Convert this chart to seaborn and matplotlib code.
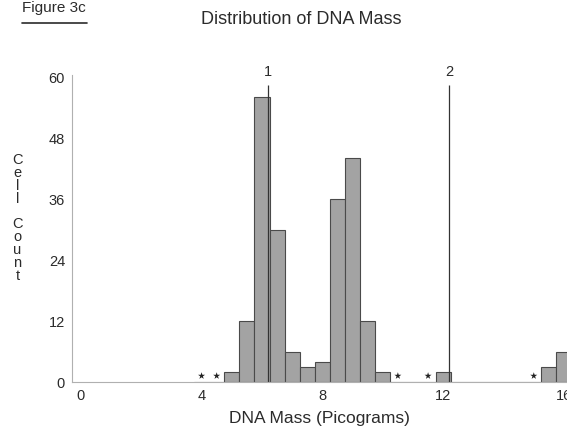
import matplotlib
matplotlib.use("Agg")
import matplotlib.pyplot as plt
import pandas as pd
import seaborn as sns

# DNA mass histogram: bin centres (picograms) and cell counts
bin_centers = [4.0, 4.5, 5.0, 5.5, 6.0, 6.5, 7.0, 7.5, 8.0, 8.5, 9.0, 9.5,
               10.0, 10.5, 11.0, 11.5, 12.0, 12.5, 13.0, 13.5, 14.0, 14.5,
               15.0, 15.5, 16.0]
cell_counts = [0, 0, 2, 12, 56, 30, 6, 3, 4, 36, 44, 12,
               2, 0, 0, 0, 2, 0, 0, 0, 0, 0,
               0, 3, 6]

# asterisks mark bins with a single / very few cells
star_positions = [4.0, 4.5, 10.5, 11.5, 15.0]

# G1 / G2 reference lines
peak_positions = [6.2, 12.2]
peak_labels = ["1", "2"]

x_ticks = [0, 4, 8, 12, 16]
y_ticks = [0, 12, 24, 36, 48, 60]

FONT = "Liberation Sans"
TEXT = "#2b2b2b"

sns.set_theme(style="white")
plt.rcParams["font.family"] = [FONT, "DejaVu Sans"]

fig = plt.figure(figsize=(5.67, 4.28), dpi=100)
ax = fig.add_axes([72 / 567, 1 - 382 / 428, 1 - 72 / 567, (382 - 75) / 428])

hist_df = pd.DataFrame({"mass": bin_centers, "count": cell_counts})
sns.histplot(data=hist_df, x="mass", weights="count", binwidth=0.5,
             binrange=(3.75, 16.25), ax=ax, color="#a3a3a3",
             edgecolor="#4a4a4a", linewidth=0.8, alpha=1.0)

sns.scatterplot(x=star_positions, y=[1.2] * len(star_positions), marker="*",
                s=28, color="#222222", edgecolor="none", ax=ax)

ax.vlines(peak_positions, 0, 58.4, color="#333333", linewidth=0.9)
for px, label in zip(peak_positions, peak_labels):
    ax.text(px, 61.0, label, ha="center", va="center", fontsize=10.5, color=TEXT)

ax.set_xlim(-0.29, 16.1)
ax.set_ylim(0, 60.4)
ax.set_xticks(x_ticks)
ax.set_yticks(y_ticks)
ax.tick_params(axis="both", length=0, labelsize=10.5, colors=TEXT)
ax.tick_params(axis="x", pad=5)
ax.tick_params(axis="y", pad=5)
ax.set_xlabel("DNA Mass (Picograms)", fontsize=12.5, color=TEXT, labelpad=6)
ax.set_ylabel("")

for side in ["top", "right"]:
    ax.spines[side].set_visible(False)
for side in ["left", "bottom"]:
    ax.spines[side].set_color("#b0b0b0")
    ax.spines[side].set_linewidth(0.8)

# stacked vertical y label
fig.text(17.5 / 567, 1 - 218 / 428, "C\ne\nl\nl\n\nC\no\nu\nn\nt",
         ha="center", va="center", fontsize=10.5, color=TEXT, linespacing=0.9)

fig.text(301 / 567, 1 - 19 / 428, "Distribution of DNA Mass",
         ha="center", va="center", fontsize=13, color=TEXT)

fig.text(22 / 567, 1 - 8 / 428, "Figure 3c", ha="left", va="center",
         fontsize=11, color=TEXT)
fig.add_artist(plt.Line2D([22 / 567, 87 / 567], [1 - 23 / 428, 1 - 23 / 428],
                          color=TEXT, linewidth=1.2))

fig.savefig("out.png", dpi=100)
